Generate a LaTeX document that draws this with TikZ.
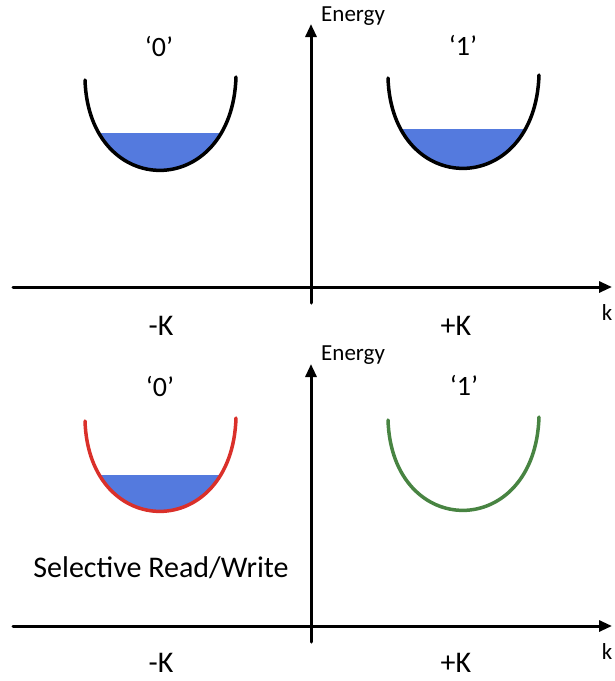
\documentclass[tikz,border=0pt]{standalone}
\usepackage{fontspec}
\setmainfont{Carlito}
\usetikzlibrary{arrows.meta}
\definecolor{fillblue}{RGB}{84,122,222}
\definecolor{wellred}{RGB}{218,48,42}
\definecolor{wellgreen}{RGB}{72,132,66}
\newcommand{\wellcurve}{(-76,-90) .. controls (-72,31) and (71,31) .. (75,-93)}
\tikzset{
  axis/.style={line width=3pt,-{Triangle[length=13pt,width=11pt]}},
  well/.style={line width=3.5pt},
  bigtxt/.style={inner sep=0pt,font=\fontsize{30}{36}\selectfont},
  midtxt/.style={inner sep=0pt,font=\fontsize{28}{34}\selectfont},
  smalltxt/.style={inner sep=0pt,font=\fontsize{23}{27}\selectfont},
  every picture/.style={line cap=round,line join=round}
}
\begin{document}
\begin{tikzpicture}[x=1pt,y=-1pt]
  \useasboundingbox (0,0) rectangle (614,681);
  % upper panel
  \coordinate (kL1) at (13,287);
  \coordinate (kR1) at (612,287);
  \coordinate (eB1) at (311,303);
  \coordinate (eT1) at (311,24);
  \draw[axis] (kL1)--(kR1);
  \draw[axis] (eB1)--(eT1);
  \node[smalltxt,anchor=base west] (en1) at (321,21) {Energy};
  \node[smalltxt,anchor=base] (k1) at (607,320) {k};
  \node[bigtxt,anchor=base] (mK1) at (161,335) {-K};
  \node[bigtxt,anchor=base] (pK1) at (456,335) {+K};
  \node[midtxt,anchor=base] (zero1) at (159,56) {‘0’};
  \node[midtxt,anchor=base] (one1) at (463,55) {‘1’};
  \begin{scope}[shift={(161,170)}]
    \begin{scope}
      \clip \wellcurve -- cycle;
      \fill[fillblue] (-80,-37) rectangle (80,5);
    \end{scope}
    \draw[well] \wellcurve;
  \end{scope}
  \begin{scope}[shift={(464,168)}]
    \begin{scope}
      \clip \wellcurve -- cycle;
      \fill[fillblue] (-80,-39) rectangle (80,5);
    \end{scope}
    \draw[well] \wellcurve;
  \end{scope}

  % lower panel
  \coordinate (kL2) at (13,626);
  \coordinate (kR2) at (612,626);
  \coordinate (eB2) at (311,642);
  \coordinate (eT2) at (311,364);
  \draw[axis] (kL2)--(kR2);
  \draw[axis] (eB2)--(eT2);
  \node[smalltxt,anchor=base west] (en2) at (321,360) {Energy};
  \node[smalltxt,anchor=base] (k2) at (607,659) {k};
  \node[bigtxt,anchor=base] (mK2) at (161,672) {-K};
  \node[bigtxt,anchor=base] (pK2) at (456,672) {+K};
  \node[midtxt,anchor=base] (zero2) at (160,396) {‘0’};
  \node[midtxt,anchor=base] (one2) at (464,395) {‘1’};
  \node[bigtxt,anchor=base] (selrw) at (161,577) {Selective Read/Write};
  \begin{scope}[shift={(161,511)}]
    \begin{scope}
      \clip \wellcurve -- cycle;
      \fill[fillblue] (-80,-36) rectangle (80,5);
    \end{scope}
    \draw[well,wellred] \wellcurve;
  \end{scope}
  \begin{scope}[shift={(464,510)}]
    \draw[well,wellgreen] \wellcurve;
  \end{scope}
\end{tikzpicture}
\end{document}
